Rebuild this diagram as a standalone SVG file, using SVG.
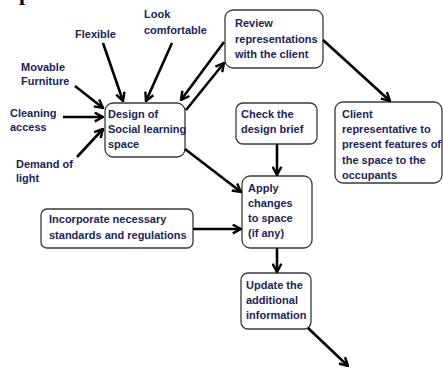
<svg xmlns="http://www.w3.org/2000/svg" width="443" height="367" viewBox="0 0 443 367">
<style>
text{font-family:"Liberation Sans",Arial,sans-serif;font-size:11px;font-weight:bold;fill:#1c2456}
.box{fill:#fff;stroke:#3a3a3a;stroke-width:1.3}
.c{stroke:#000;stroke-width:2.6;fill:none;marker-end:url(#ah)}
</style>
<defs>
<marker id="ah" viewBox="0 0 10 10" refX="9" refY="5" markerWidth="11" markerHeight="11" markerUnits="userSpaceOnUse" orient="auto">
<path d="M1.5,1 L9,5 L1.5,9" fill="none" stroke="#000" stroke-width="2.2"/>
</marker>
</defs>
<rect width="443" height="367" fill="#fff"/>
<text x="19" y="0" style="font-family:'Liberation Serif',serif;font-size:22px;fill:#000">p</text>

<g id="flexible"><text x="75" y="38">Flexible</text></g>
<g id="look"><text x="144" y="18">Look</text><text x="144" y="34">comfortable</text></g>
<g id="movable"><text x="21" y="71">Movable</text><text x="21" y="85">Furniture</text></g>
<g id="cleaning"><text x="10" y="117">Cleaning</text><text x="10" y="131">access</text></g>
<g id="demand"><text x="16" y="168">Demand of</text><text x="16" y="182">light</text></g>

<g id="design"><rect class="box" x="105" y="103" width="80" height="54" rx="8"/>
<text x="108" y="118">Design of</text><text x="108" y="133">Social learning</text><text x="108" y="148">space</text></g>

<g id="review"><rect class="box" x="225" y="10" width="98" height="58" rx="8"/>
<text x="235" y="27">Review</text><text x="235" y="43">representations</text><text x="235" y="58">with the client</text></g>

<g id="client"><rect class="box" x="335" y="102" width="107" height="81" rx="8"/>
<text x="342" y="118">Client</text><text x="342" y="133">representative to</text><text x="342" y="148">present features of</text><text x="342" y="164">the space to the</text><text x="342" y="179">occupants</text></g>

<g id="check"><rect class="box" x="236" y="103" width="81" height="41" rx="7"/>
<text x="241" y="118">Check the</text><text x="241" y="133">design brief</text></g>

<g id="apply"><rect class="box" x="242" y="176" width="70" height="72" rx="8"/>
<text x="248" y="192">Apply</text><text x="248" y="207">changes</text><text x="248" y="222">to space</text><text x="248" y="237">(if any)</text></g>

<g id="incorporate"><rect class="box" x="41" y="209" width="152" height="39" rx="6"/>
<text x="49" y="223">Incorporate necessary</text><text x="49" y="239">standards and regulations</text></g>

<g id="update"><rect class="box" x="241" y="273" width="70" height="56" rx="7"/>
<text x="246" y="289">Update the</text><text x="246" y="304">additional</text><text x="246" y="319">information</text></g>

<g id="connectors">
<line class="c" x1="103" y1="43" x2="123" y2="101"/>
<line class="c" x1="172" y1="43" x2="146" y2="101"/>
<line class="c" x1="75" y1="86" x2="103" y2="108"/>
<line class="c" x1="63" y1="117" x2="103" y2="117"/>
<line class="c" x1="77" y1="157" x2="103" y2="129"/>
<line class="c" x1="224" y1="42" x2="181" y2="100"/>
<line class="c" x1="186" y1="110" x2="224" y2="63"/>
<line class="c" x1="323" y1="40" x2="390" y2="101"/>
<line class="c" x1="185" y1="149" x2="241" y2="192"/>
<line class="c" x1="277" y1="144" x2="277" y2="175"/>
<line class="c" x1="193" y1="229" x2="241" y2="229"/>
<line class="c" x1="277" y1="248" x2="277" y2="272"/>
<line class="c" x1="308" y1="328" x2="348" y2="366"/>
</g>
</svg>
